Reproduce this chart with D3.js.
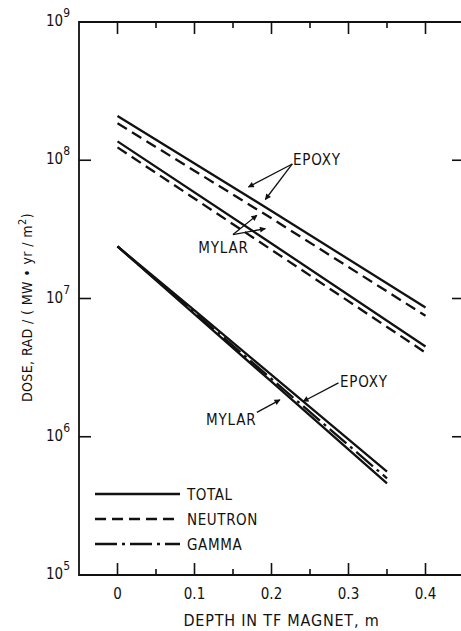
<!DOCTYPE html>
<html>
<head>
<meta charset="utf-8">
<script src="https://cdn.jsdelivr.net/npm/d3@7"></script>
<style>
  body { margin: 0; background: #fff; }
  svg { display: block; }
  text { font-family: "Liberation Sans Narrow", "DejaVu Sans Condensed", "Liberation Sans", sans-serif; fill: #111; }
</style>
</head>
<body>
<div id="chart"></div>
<script>
// depth in TF magnet (m) and dose values
var depthHigh = [0, 0.2, 0.4];
var epoxyTotal = [2.09e8, 4.3e7, 8.6e6];
var epoxyNeutron = [1.85e8, 3.8e7, 7.5e6];
var mylarTotal = [1.37e8, 2.5e7, 4.5e6];
var mylarNeutron = [1.24e8, 2.25e7, 4.06e6];

var depthGamma = [0, 0.1, 0.2, 0.35];
var epoxyGammaTotal = [2.38e7, 8.2e6, 2.8e6, 5.6e5];
var mylarGamma = [2.38e7, 7.9e6, 2.62e6, 5.0e5];
var mylarGammaTotal = [2.38e7, 7.7e6, 2.5e6, 4.6e5];

var xTicks = [0, 0.1, 0.2, 0.3, 0.4];
var xMinorTicks = [0.05, 0.15, 0.25, 0.35];
var yTicks = [1e5, 1e6, 1e7, 1e8, 1e9];
var legendLabels = ["TOTAL", "NEUTRON", "GAMMA"];

var width = 461, height = 631;
var margin = {top: 22, right: -3, bottom: 56, left: 79};

var svg = d3.select("#chart").append("svg")
    .attr("width", width)
    .attr("height", height);

var x = d3.scaleLinear()
    .domain([-0.05, 0.45])
    .range([margin.left, width - margin.right]);
var y = d3.scaleLog()
    .domain([1e5, 1e9])
    .range([height - margin.bottom, margin.top]);

var styles = {
    solid: null,
    dashed: "11,6",
    dashdot: "22,5,3,5"
};

// frame
var g = svg.append("g").attr("stroke", "#111").attr("stroke-width", 1.8).attr("fill", "none");
g.append("path").attr("d", "M" + x.range()[1] + "," + y(1e9) + "H" + x.range()[0] + "V" + y(1e5) + "H" + x.range()[1]);

// ticks along top and bottom
var tickG = svg.append("g").attr("stroke", "#111").attr("stroke-width", 1.6);
xTicks.forEach(function(t) {
    tickG.append("line").attr("x1", x(t)).attr("x2", x(t)).attr("y1", y(1e5)).attr("y2", y(1e5) - 12);
    tickG.append("line").attr("x1", x(t)).attr("x2", x(t)).attr("y1", y(1e9)).attr("y2", y(1e9) + 12);
});
xMinorTicks.forEach(function(t) {
    tickG.append("line").attr("x1", x(t)).attr("x2", x(t)).attr("y1", y(1e5)).attr("y2", y(1e5) - 6);
    tickG.append("line").attr("x1", x(t)).attr("x2", x(t)).attr("y1", y(1e9)).attr("y2", y(1e9) + 6);
});
yTicks.slice(1, -1).forEach(function(t) {
    tickG.append("line").attr("x1", x.range()[0]).attr("x2", x.range()[0] + 12).attr("y1", y(t)).attr("y2", y(t));
    tickG.append("line").attr("x1", x.range()[1]).attr("x2", x.range()[1] - 12).attr("y1", y(t)).attr("y2", y(t));
});

// x tick labels
svg.append("g").selectAll("text")
    .data(xTicks)
    .join("text")
    .attr("x", function(d) { return x(d); })
    .attr("y", y(1e5) + 24)
    .attr("text-anchor", "middle")
    .attr("font-size", 15)
    .text(function(d) { return d === 0 ? "0" : d3.format(".1f")(d); });

// y tick labels: 10 with exponent
var yl = svg.append("g").selectAll("text")
    .data(yTicks)
    .join("text")
    .attr("x", x.range()[0] - 9)
    .attr("y", function(d) { return y(d) + 4; })
    .attr("text-anchor", "end")
    .attr("font-size", 15);
yl.append("tspan").text("10");
yl.append("tspan").attr("dy", -9).attr("font-size", 12).text(function(d) { return Math.round(Math.log10(d)); });

// axis titles
svg.append("text")
    .attr("x", (x(-0.05) + x(0.45)) / 2 + 10)
    .attr("y", height - 5)
    .attr("text-anchor", "middle")
    .attr("font-size", 16)
    .attr("letter-spacing", 0.8)
    .text("DEPTH IN TF MAGNET, m");

var yt = svg.append("text")
    .attr("transform", "translate(32," + (y(1e7) + 9) + ") rotate(-90)")
    .attr("text-anchor", "middle")
    .attr("font-size", 14)
    .attr("letter-spacing", 0.4);
yt.append("tspan").text("DOSE, RAD / ( MW \u2022 yr / m");
yt.append("tspan").attr("dy", -6).attr("font-size", 11).text("2");
yt.append("tspan").attr("dy", 6).text(")");

// curves
var line = d3.line()
    .x(function(d) { return x(d[0]); })
    .y(function(d) { return y(d[1]); });

var curves = [
    {xs: depthHigh, ys: epoxyTotal, style: "solid"},
    {xs: depthHigh, ys: epoxyNeutron, style: "dashed"},
    {xs: depthHigh, ys: mylarTotal, style: "solid"},
    {xs: depthHigh, ys: mylarNeutron, style: "dashed"},
    {xs: depthGamma, ys: epoxyGammaTotal, style: "solid"},
    {xs: depthGamma, ys: mylarGamma, style: "dashdot"},
    {xs: depthGamma, ys: mylarGammaTotal, style: "solid"}
];

svg.append("g").selectAll("path")
    .data(curves)
    .join("path")
    .attr("fill", "none")
    .attr("stroke", "#111")
    .attr("stroke-width", 2.3)
    .attr("stroke-dasharray", function(d) { return styles[d.style]; })
    .attr("d", function(d) { return line(d3.zip(d.xs, d.ys)); });

// legend
var legendStyles = ["solid", "dashed", "dashdot"];
var lg = svg.append("g");
legendLabels.forEach(function(lab, i) {
    var ly = y(1e5) - 81 + i * 25;
    lg.append("line")
        .attr("x1", 95).attr("x2", 180)
        .attr("y1", ly).attr("y2", ly)
        .attr("stroke", "#111").attr("stroke-width", 2.3)
        .attr("stroke-dasharray", styles[legendStyles[i]]);
    lg.append("text")
        .attr("x", 187).attr("y", ly + 6)
        .attr("font-size", 15)
        .attr("letter-spacing", 0.6)
        .text(lab);
});

// annotations: label position and arrow targets (in data units)
var annotations = [
    {text: "EPOXY", at: [0.228, 1.02e8], anchor: "start", from: [0.227, 9.4e7], to: [[0.170, 6.4e7], [0.192, 5.2e7]]},
    {text: "MYLAR", at: [0.105, 2.35e7], anchor: "start", from: [0.150, 2.9e7], to: [[0.181, 4.0e7], [0.192, 3.2e7]]},
    {text: "EPOXY", at: [0.289, 2.55e6], anchor: "start", from: [0.287, 2.45e6], to: [[0.241, 1.8e6]]},
    {text: "MYLAR", at: [0.115, 1.35e6], anchor: "start", from: [0.181, 1.5e6], to: [[0.211, 1.85e6]]}
];

svg.append("defs").append("marker")
    .attr("id", "arrow")
    .attr("viewBox", "0 0 10 10")
    .attr("refX", 9).attr("refY", 5)
    .attr("markerWidth", 9).attr("markerHeight", 6)
    .attr("markerUnits", "userSpaceOnUse")
    .attr("orient", "auto")
    .append("path")
    .attr("d", "M0,0L10,5L0,10z")
    .attr("fill", "#111");

var ag = svg.append("g");
annotations.forEach(function(a) {
    ag.append("text")
        .attr("x", x(a.at[0]))
        .attr("y", y(a.at[1]) + 6)
        .attr("text-anchor", a.anchor)
        .attr("font-size", 15)
        .attr("letter-spacing", 0.8)
        .text(a.text);
    a.to.forEach(function(t) {
        ag.append("line")
            .attr("x1", x(a.from[0])).attr("y1", y(a.from[1]))
            .attr("x2", x(t[0])).attr("y2", y(t[1]))
            .attr("stroke", "#111").attr("stroke-width", 1.3)
            .attr("marker-end", "url(#arrow)");
    });
});
</script>
</body>
</html>
